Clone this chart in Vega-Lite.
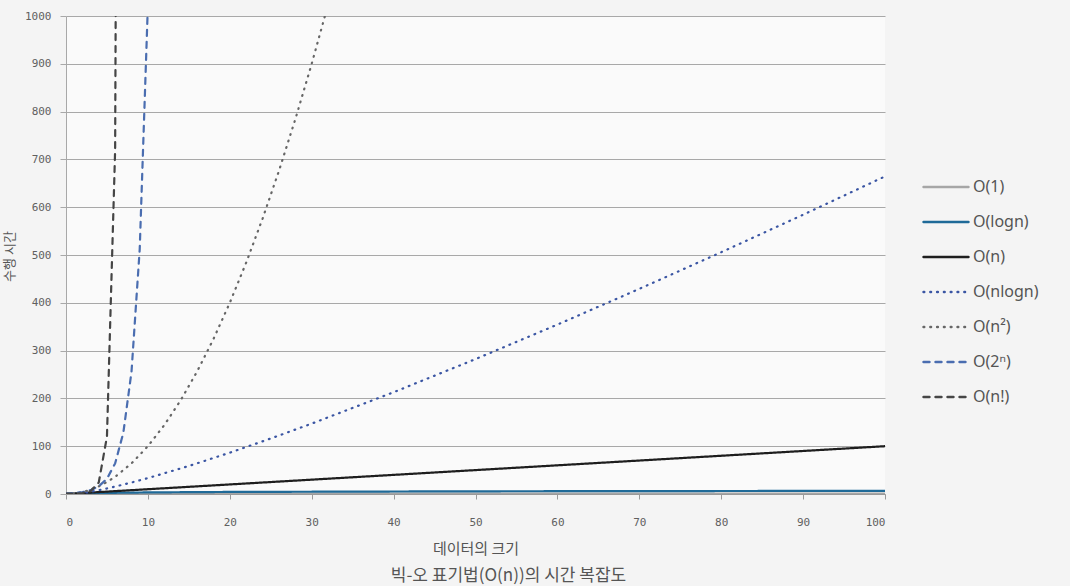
{
  "$schema": "https://vega.github.io/schema/vega-lite/v6.json",
  "width": 819,
  "height": 478,
  "autosize": {"type": "none"},
  "padding": {"left": 66, "top": 16, "right": 185, "bottom": 92},
  "background": "#f4f4f4",
  "title": {
    "text": "빅-오 표기법(O(n))의 시간 복잡도",
    "orient": "bottom",
    "anchor": "middle",
    "dx": 33,
    "offset": 12,
    "font": "Noto Sans CJK KR",
    "fontSize": 17,
    "fontWeight": "normal",
    "color": "#555555"
  },
  "config": {
    "view": {"stroke": null, "fill": "#fafafa"},
    "axis": {"labelFont": "DejaVu Sans Mono", "labelFontSize": 11, "labelColor": "#606060", "titleFont": "Noto Sans CJK KR", "titleFontWeight": "normal", "titleColor": "#555555", "titleFontSize": 15}
  },
  "data": {
    "values": [
      {"s": "O(1)", "n": 0, "t": 1},
      {"s": "O(1)", "n": 100, "t": 1},
      {"s": "O(logn)", "n": 1, "t": 0},
      {"s": "O(logn)", "n": 2, "t": 1},
      {"s": "O(logn)", "n": 5, "t": 2.32},
      {"s": "O(logn)", "n": 10, "t": 3.32},
      {"s": "O(logn)", "n": 20, "t": 4.32},
      {"s": "O(logn)", "n": 50, "t": 5.64},
      {"s": "O(logn)", "n": 100, "t": 6.64},
      {"s": "O(n)", "n": 0, "t": 0},
      {"s": "O(n)", "n": 100, "t": 100},
      {"s": "O(nlogn)", "n": 0, "t": 0},
      {"s": "O(nlogn)", "n": 1, "t": 0},
      {"s": "O(nlogn)", "n": 2, "t": 2},
      {"s": "O(nlogn)", "n": 3, "t": 4.75},
      {"s": "O(nlogn)", "n": 4, "t": 8},
      {"s": "O(nlogn)", "n": 5, "t": 11.6},
      {"s": "O(nlogn)", "n": 6, "t": 15.5},
      {"s": "O(nlogn)", "n": 8, "t": 24},
      {"s": "O(nlogn)", "n": 10, "t": 33.2},
      {"s": "O(nlogn)", "n": 15, "t": 58.6},
      {"s": "O(nlogn)", "n": 20, "t": 86.4},
      {"s": "O(nlogn)", "n": 25, "t": 116.1},
      {"s": "O(nlogn)", "n": 30, "t": 147.2},
      {"s": "O(nlogn)", "n": 40, "t": 212.9},
      {"s": "O(nlogn)", "n": 50, "t": 282.2},
      {"s": "O(nlogn)", "n": 60, "t": 354.4},
      {"s": "O(nlogn)", "n": 70, "t": 429.1},
      {"s": "O(nlogn)", "n": 80, "t": 505.8},
      {"s": "O(nlogn)", "n": 90, "t": 584.3},
      {"s": "O(nlogn)", "n": 100, "t": 664.4},
      {"s": "O(n²)", "n": 0, "t": 0},
      {"s": "O(n²)", "n": 1, "t": 1},
      {"s": "O(n²)", "n": 2, "t": 4},
      {"s": "O(n²)", "n": 3, "t": 9},
      {"s": "O(n²)", "n": 4, "t": 16},
      {"s": "O(n²)", "n": 5, "t": 25},
      {"s": "O(n²)", "n": 6, "t": 36},
      {"s": "O(n²)", "n": 8, "t": 64},
      {"s": "O(n²)", "n": 10, "t": 100},
      {"s": "O(n²)", "n": 12, "t": 144},
      {"s": "O(n²)", "n": 14, "t": 196},
      {"s": "O(n²)", "n": 16, "t": 256},
      {"s": "O(n²)", "n": 18, "t": 324},
      {"s": "O(n²)", "n": 20, "t": 400},
      {"s": "O(n²)", "n": 22, "t": 484},
      {"s": "O(n²)", "n": 24, "t": 576},
      {"s": "O(n²)", "n": 26, "t": 676},
      {"s": "O(n²)", "n": 28, "t": 784},
      {"s": "O(n²)", "n": 30, "t": 900},
      {"s": "O(n²)", "n": 32, "t": 1024},
      {"s": "O(2ⁿ)", "n": 0, "t": 1},
      {"s": "O(2ⁿ)", "n": 1, "t": 2},
      {"s": "O(2ⁿ)", "n": 2, "t": 4},
      {"s": "O(2ⁿ)", "n": 3, "t": 8},
      {"s": "O(2ⁿ)", "n": 4, "t": 16},
      {"s": "O(2ⁿ)", "n": 5, "t": 32},
      {"s": "O(2ⁿ)", "n": 6, "t": 64},
      {"s": "O(2ⁿ)", "n": 7, "t": 128},
      {"s": "O(2ⁿ)", "n": 8, "t": 256},
      {"s": "O(2ⁿ)", "n": 9, "t": 512},
      {"s": "O(2ⁿ)", "n": 10, "t": 1024},
      {"s": "O(n!)", "n": 0, "t": 1},
      {"s": "O(n!)", "n": 1, "t": 1},
      {"s": "O(n!)", "n": 2, "t": 2},
      {"s": "O(n!)", "n": 3, "t": 6},
      {"s": "O(n!)", "n": 4, "t": 24},
      {"s": "O(n!)", "n": 5, "t": 120},
      {"s": "O(n!)", "n": 6, "t": 720},
      {"s": "O(n!)", "n": 7, "t": 5040}
    ]
  },
  "mark": {"type": "line", "clip": true, "strokeWidth": 2.2, "strokeCap": "round"},
  "encoding": {
    "x": {
      "field": "n", "type": "quantitative",
      "scale": {"domain": [0, 100], "nice": false},
      "axis": {"values": [0,10,20,30,40,50,60,70,80,90,100], "grid": false, "domainColor": "#9a9a9a", "tickColor": "#9a9a9a", "tickSize": 5, "labelPadding": 17, "title": "데이터의 크기", "titlePadding": 14}
    },
    "y": {
      "field": "t", "type": "quantitative",
      "scale": {"domain": [0, 1000], "nice": false},
      "axis": {"values": [0,100,200,300,400,500,600,700,800,900,1000], "format": "d", "grid": true, "gridColor": "#a8a8a8", "gridWidth": 1, "domainColor": "#a8a8a8", "tickColor": "#a8a8a8", "tickSize": 6, "labelPadding": 9, "title": "수행 시간", "titleX": -57, "titleY": 240, "titleAngle": -90, "titleBaseline": "middle", "titleFontSize": 13}
    },
    "color": {
      "field": "s", "type": "nominal",
      "scale": {
        "domain": ["O(1)", "O(logn)", "O(n)", "O(nlogn)", "O(n²)", "O(2ⁿ)", "O(n!)"],
        "range": ["#a6a6a6", "#1f6a98", "#1e1e1e", "#3a55a3", "#666666", "#4a6db0", "#454545"]
      },
      "legend": {
        "title": null, "orient": "none", "legendX": 856, "legendY": 147,
        "symbolType": "stroke", "symbolSize": 2025, "symbolStrokeWidth": 2.4,
        "labelFont": "Noto Sans", "labelFontSize": 16, "labelColor": "#555555",
        "rowPadding": 3, "labelOffset": 3,
        "encode": {"symbols": {"update": {"strokeCap": {"value": "round"}}}}
      }
    },
    "strokeDash": {
      "field": "s", "type": "nominal",
      "scale": {
        "domain": ["O(1)", "O(logn)", "O(n)", "O(nlogn)", "O(n²)", "O(2ⁿ)", "O(n!)"],
        "range": [[1, 0], [1, 0], [1, 0], [0.8, 6], [0.8, 6], [6, 6], [6, 6]]
      }
    }
  }
}
